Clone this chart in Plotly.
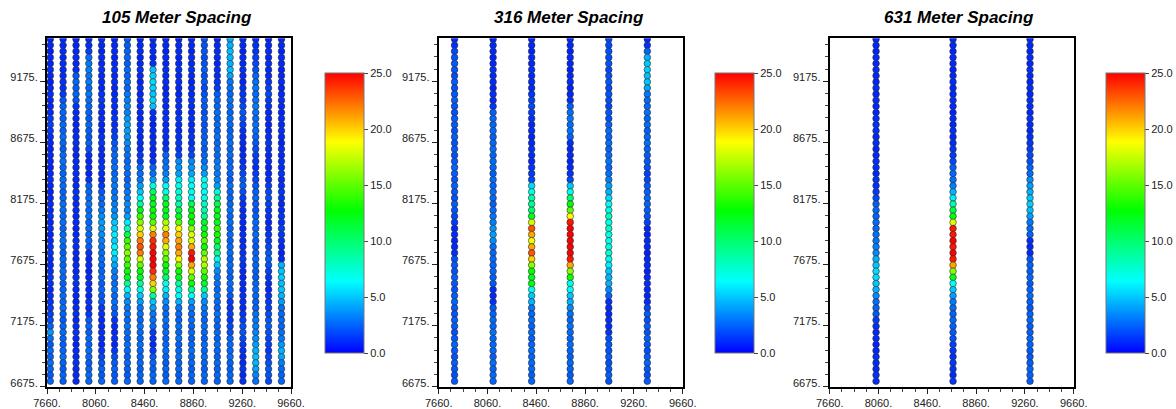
import plotly.graph_objects as go

# ---------------- data ----------------
# station positions along each survey line (top to bottom), 50 m spacing
station_y = list(range(9520, 6719, -50))  # 57 stations

# 105 m spacing: line x positions
lines_105_x = [7687, 7792, 7898, 8003, 8108, 8214, 8319, 8424, 8529, 8634,
               8740, 8845, 8950, 9056, 9161, 9266, 9371, 9476, 9582]

l105_c00 = [0.9,1.0,0.8,1.0,0.9,1.1,1.0,0.8,1.0,1.2,1.0,0.9,1.1,1.5,1.6,1.4,1.2,1.0,0.9,1.1,1.0,0.8,1.0,1.2,1.0,0.9,1.0,1.1,1.0,
            1.2,1.0,1.1,0.9,1.0,1.2,1.3,1.1,1.0,1.2,1.4,1.2,1.0,1.1,1.3,1.5,1.6,2.0,2.5,3.8,2.8,2.2,2.6,2.4,2.8,2.5,2.2,2.6]
l105_c01 = [1.1,1.0,1.1,0.9,1.2,1.0,1.1,1.3,1.2,1.5,2.2,2.5,2.6,2.4,2.7,2.5,2.8,2.6,2.4,2.7,2.9,2.6,2.5,2.8,2.7,2.5,2.6,2.8,2.7,
            2.6,2.8,2.5,2.7,2.9,2.6,2.4,2.7,2.5,2.8,2.6,2.4,2.5,2.7,2.6,2.8,2.5,2.3,2.6,2.7,2.5,2.4,2.6,2.8,2.5,2.3,2.6,2.4]
l105_c02 = [1.0,0.9,1.0,1.1,1.0,1.2,2.3,2.6,2.4,2.5,2.2,1.3,1.1,1.0,0.9,1.0,1.1,1.2,1.0,0.9,1.1,1.0,1.2,1.1,1.0,1.3,1.2,1.0,1.1,
            1.0,1.1,0.9,1.0,1.2,1.1,1.0,0.9,1.1,1.0,1.2,1.3,1.1,1.0,0.9,1.1,1.2,1.0,1.1,1.3,1.0,0.9,1.1,1.0,1.2,1.0,1.1,1.0]
l105_c03 = [1.1,1.2,1.5,2.8,3.0,3.2,2.9,3.1,2.7,3.0,2.8,2.6,2.5,2.3,2.6,2.4,2.2,2.5,2.0,1.2,1.0,1.1,0.9,1.3,2.4,2.6,2.8,3.0,2.7,
            2.9,2.6,2.8,2.5,2.7,2.4,1.2,1.0,1.1,0.9,1.0,1.2,1.1,1.0,1.3,1.1,1.4,2.3,2.6,2.4,2.7,2.5,2.8,2.6,2.4,2.5,2.7,2.6]
l105_c04 = [1.1,1.0,0.9,1.1,1.0,1.2,1.1,1.0,0.9,1.3,1.5,1.2,1.0,1.1,1.0,0.9,1.2,1.4,1.1,1.0,1.2,1.3,1.1,1.0,1.4,2.2,2.5,2.7,3.0,
            3.6,4.0,3.8,3.5,3.2,2.9,2.7,2.8,2.6,2.5,2.7,2.4,2.6,2.3,2.2,1.5,1.2,1.0,1.1,1.3,1.2,1.0,1.4,1.8,2.2,2.5,2.3,2.6]
l105_c05 = [0.9,1.0,1.1,0.9,1.0,1.2,1.0,1.1,0.9,1.0,1.2,1.1,1.0,1.3,1.2,1.4,1.6,2.2,2.5,2.7,2.6,2.8,2.5,2.9,3.1,2.8,3.0,3.2,3.4,
            3.8,5.0,5.3,6.0,5.2,6.2,6.0,5.0,4.2,3.2,2.9,2.7,3.0,2.6,2.8,2.5,2.2,1.3,1.1,1.0,1.2,1.0,1.4,2.0,2.3,2.5,2.2,2.4]
l105_c06 = [2.4,2.3,2.5,2.6,2.4,2.7,2.5,2.8,2.6,3.0,3.2,3.4,3.3,3.9,4.2,4.0,3.8,3.5,3.0,2.8,2.6,2.9,2.7,2.5,2.8,3.0,3.2,3.5,3.3,
            4.0,6.0,8.0,11.0,14.0,15.0,16.0,15.0,14.0,13.0,12.0,9.0,6.5,4.5,3.5,3.0,2.8,2.6,2.9,2.7,2.5,2.8,2.6,2.4,2.7,2.5,2.3,2.6]
l105_c07 = [0.9,1.0,1.1,0.9,1.0,1.2,1.0,0.9,1.1,1.0,1.2,1.1,1.0,0.9,1.3,1.1,1.0,1.2,1.1,1.4,1.6,2.6,2.8,3.0,4.0,5.0,6.5,9.0,12.0,
            14.0,16.0,18.0,20.0,22.0,23.0,22.0,18.0,15.0,13.0,12.0,9.0,7.0,5.0,4.0,3.0,2.8,2.6,2.9,2.7,2.5,2.8,2.6,2.5,2.7,2.4,2.6,2.5]
l105_c08 = [1.1,1.0,1.1,0.9,1.2,4.8,5.2,5.5,5.3,5.0,5.4,4.9,1.2,1.0,0.9,1.1,1.0,1.2,0.9,1.0,1.3,2.5,2.8,4.0,7.0,10.0,12.0,12.0,13.0,
            13.0,15.0,18.0,22.0,24.0,24.5,25.0,25.0,25.0,24.0,22.0,20.0,16.0,9.0,5.0,4.0,3.0,2.8,2.6,1.5,1.2,1.0,1.4,2.2,2.6,2.4,2.7,2.5]
l105_c09 = [1.1,1.0,0.9,1.1,1.0,1.2,1.0,1.1,0.9,1.0,1.2,1.0,1.1,1.3,1.0,1.1,1.2,1.0,1.4,2.5,2.7,2.9,3.2,4.0,6.5,7.0,10.0,12.0,12.0,
            12.0,17.0,18.0,22.0,21.0,18.0,16.0,15.0,13.0,12.0,10.0,7.0,6.0,4.5,3.5,2.8,2.6,2.9,2.5,2.7,2.4,2.6,2.8,2.5,2.3,2.6,2.4,2.7]
l105_c10 = [0.9,1.0,1.1,0.9,1.0,1.2,1.0,1.1,1.0,0.9,1.2,1.1,1.0,1.3,1.1,1.0,1.2,1.4,1.3,1.6,3.5,3.8,4.0,6.0,7.0,7.5,8.0,8.5,11.0,
            12.0,15.0,19.0,20.0,21.0,22.0,21.0,19.0,16.0,13.0,12.0,9.0,7.0,6.5,4.5,3.0,2.7,2.5,2.8,2.6,2.9,2.4,2.6,2.8,2.5,2.7,2.3,2.6]
l105_c11 = [1.1,1.0,0.9,1.1,1.0,1.2,1.0,0.9,1.1,1.0,1.3,1.1,1.0,1.2,1.0,1.1,1.3,1.2,1.5,1.8,3.5,3.8,4.2,6.0,6.5,7.0,6.5,11.0,12.0,
            13.0,13.0,16.0,18.0,18.0,21.0,24.5,25.0,21.0,18.0,15.0,13.0,9.0,6.5,4.0,3.0,2.6,2.8,2.5,2.7,2.4,2.6,2.9,2.5,2.7,2.4,2.6,2.5]
l105_c12 = [2.1,2.0,2.2,1.9,2.1,2.3,2.0,2.2,1.8,2.1,2.4,2.2,2.0,2.3,2.1,2.2,2.4,2.5,2.3,2.6,2.8,3.5,4.0,6.5,6.8,6.5,7.0,8.0,8.5,
            9.0,12.0,12.0,13.0,15.0,13.0,15.0,17.0,17.0,15.0,13.0,12.0,9.0,5.0,3.5,3.0,2.7,2.5,2.8,2.6,2.4,2.7,2.5,2.8,2.6,2.4,2.7,2.5]
l105_c13 = [0.9,1.0,1.1,1.0,0.9,1.2,1.1,1.3,1.5,2.4,2.6,2.5,2.8,2.6,2.7,2.5,2.9,2.6,2.8,2.7,3.0,3.2,3.0,3.4,4.0,7.5,9.0,11.0,12.0,
            12.0,12.0,14.0,13.0,12.0,10.0,9.0,7.0,5.0,3.5,3.0,2.8,2.6,2.9,2.7,2.5,2.8,2.6,2.4,2.7,2.5,2.8,2.6,2.4,2.7,2.5,2.6,2.4]
l105_c14 = [4.3,4.5,4.8,4.6,4.4,4.7,4.2,3.0,2.8,2.6,2.9,2.7,2.5,2.8,2.6,2.4,2.7,2.9,2.6,2.8,2.5,2.7,2.6,2.4,2.8,2.6,2.5,2.7,2.9,
            2.6,2.8,2.5,2.7,2.4,2.6,2.8,2.5,2.7,2.6,2.4,2.8,2.5,2.2,1.5,1.3,1.6,1.4,1.8,2.0,2.5,2.7,2.6,2.8,2.5,2.4,2.6,2.7]
l105_c15 = [1.1,1.0,0.9,1.1,1.0,1.2,1.0,0.9,1.1,1.3,1.5,1.8,2.2,2.0,1.6,1.2,1.0,1.1,0.9,1.0,1.2,1.4,1.8,2.2,2.4,2.0,1.5,1.2,1.0,
            1.1,1.0,0.9,1.2,1.0,1.1,1.3,1.5,1.2,1.0,0.9,1.1,1.0,1.2,1.1,1.0,1.3,1.6,2.0,2.2,1.8,1.4,1.2,1.0,1.1,1.3,1.0,1.2]
l105_c16 = [1.1,1.2,1.4,1.6,1.8,2.0,2.6,2.8,3.0,2.7,2.9,3.1,2.8,2.6,2.9,2.7,2.5,2.2,2.0,1.6,1.4,1.2,1.5,1.8,2.2,2.4,2.6,2.3,2.1,
            2.4,2.6,2.5,2.7,2.4,2.2,2.5,2.7,2.6,2.4,2.3,2.5,2.7,2.6,2.4,2.5,2.8,3.0,3.2,3.4,3.6,4.0,4.5,4.8,4.6,4.2,3.4,2.8]
l105_c17 = [0.9,1.0,1.1,0.9,1.2,1.0,1.1,1.3,1.6,1.8,1.5,1.2,1.0,1.1,0.9,1.0,1.2,1.4,1.2,1.0,1.1,0.9,1.0,1.2,1.5,1.8,2.0,1.6,1.3,
            1.2,1.0,1.1,1.3,1.5,1.8,2.2,2.4,2.0,1.6,1.3,1.1,1.0,1.2,1.4,1.6,1.9,2.2,2.4,2.1,1.8,1.6,1.4,1.8,2.0,2.3,2.1,1.8]
l105_c18 = [1.1,1.0,0.9,1.1,1.0,0.8,1.0,1.1,0.9,1.0,1.2,1.0,0.9,1.1,1.0,1.2,1.0,0.9,1.1,1.0,1.2,1.1,1.3,1.0,1.2,1.4,1.2,1.0,1.1,
            1.3,1.2,1.5,1.3,1.2,1.0,0.9,1.0,4.5,5.0,5.2,4.8,5.0,4.6,4.0,2.8,2.6,2.7,2.5,2.8,3.0,3.8,4.5,4.2,3.2,2.7,2.5,2.6]

# 316 m spacing
lines_316_x = [7790, 8106, 8422, 8738, 9054, 9370]
l316_c0 = [1.1,1.2,1.8,2.0,2.2,2.1,1.9,2.3,2.0,2.2,2.4,2.1,2.0,2.3,2.2,2.0,2.4,2.1,2.3,2.0,2.2,2.5,2.3,2.1,2.4,2.2,2.0,2.3,2.1,
           1.8,1.5,1.0,1.1,0.9,1.0,1.2,2.0,2.3,2.1,2.4,2.2,2.0,2.3,2.5,2.2,2.1,2.4,2.3,2.0,2.2,2.5,2.3,2.1,2.4,2.2,2.0,2.3]
l316_c1 = [0.9,1.0,1.1,0.9,1.0,1.2,1.0,1.1,0.9,1.2,1.0,1.3,2.4,2.6,2.5,2.7,2.4,2.6,2.8,2.5,2.7,2.6,2.4,2.7,2.5,2.8,2.6,2.4,2.7,
           2.9,3.2,3.8,4.0,3.6,2.8,2.6,2.7,2.5,2.6,2.4,2.2,1.1,1.0,1.2,2.2,2.5,2.7,2.6,2.8,2.5,2.7,2.6,2.4,2.8,2.5,2.7,2.6]
l316_c2 = [1.1,1.0,0.9,1.1,1.0,1.2,1.0,1.1,1.0,1.4,1.6,1.8,1.5,1.2,1.0,1.1,0.9,1.0,1.2,1.1,1.0,1.3,1.5,1.8,5.5,7.0,8.5,9.0,10.0,
           12.0,18.0,23.0,21.0,18.5,21.0,23.0,20.0,16.0,13.0,12.0,12.5,7.0,5.0,4.5,3.0,2.6,2.8,2.5,2.7,2.4,2.6,2.8,2.5,2.7,2.6,2.4,2.6]
l316_c3 = [1.1,1.0,0.9,1.1,1.0,0.8,1.0,1.1,0.9,1.0,1.2,2.4,2.8,3.0,2.7,2.9,2.5,1.2,1.0,1.1,0.9,1.0,1.3,1.8,5.0,7.0,10.0,12.5,15.0,
           19.0,24.5,25.0,25.0,25.0,25.0,25.0,24.5,21.0,16.0,13.0,7.0,6.5,5.0,4.5,3.5,2.8,2.6,2.9,2.7,2.5,2.8,2.6,2.4,2.7,2.5,2.3,2.6]
l316_c4 = [1.9,1.8,2.0,1.9,2.1,1.8,2.0,2.2,1.9,2.1,2.0,1.8,2.2,2.0,2.5,2.7,2.6,2.8,2.5,2.7,2.9,2.6,2.8,3.2,4.0,4.5,5.5,6.5,7.0,
           8.0,7.0,8.0,7.0,7.0,7.0,7.5,7.0,6.0,5.0,4.5,4.5,3.5,2.5,1.2,1.1,1.0,1.2,1.1,1.3,2.0,2.2,2.1,2.3,2.0,2.2,2.4,2.1]
l316_c5 = [1.0,1.2,2.5,4.5,5.0,5.2,4.8,5.0,4.2,3.0,2.7,2.6,2.8,2.5,2.7,2.4,2.6,2.8,2.5,2.3,2.2,2.0,1.6,1.8,2.2,2.4,2.6,2.5,2.3,
           2.0,1.6,1.0,0.9,1.1,1.0,0.8,1.0,1.1,0.9,1.0,1.2,1.0,0.9,1.1,1.8,2.2,2.0,2.3,2.1,2.4,2.2,2.0,2.3,2.5,2.2,2.0,2.3]

# 631 m spacing
lines_631_x = [8040, 8671, 9302]
l631_c0 = [1.1,1.0,0.9,1.1,1.0,1.2,1.0,0.9,1.1,1.0,1.2,1.0,0.9,1.1,1.3,1.2,1.0,1.1,0.9,1.0,1.2,1.1,1.0,1.3,1.2,1.5,1.8,2.4,2.6,
           2.5,2.7,2.6,2.8,2.9,3.1,3.5,4.5,5.0,5.5,5.5,5.0,4.5,3.5,2.7,2.5,2.2,1.5,1.2,1.0,1.1,0.9,1.0,1.2,1.1,1.0,1.3,1.1]
l631_c1 = [1.1,1.0,0.9,1.1,1.0,0.8,1.0,1.1,0.9,1.0,1.2,1.0,0.9,1.1,1.0,1.2,1.0,1.1,1.3,1.5,1.8,2.4,2.6,2.8,3.2,4.5,6.0,8.5,11.0,
           12.5,18.0,24.5,24.5,25.0,24.5,25.0,24.5,21.0,16.0,12.0,6.5,5.0,4.0,3.0,2.7,2.5,2.6,2.4,2.2,2.0,1.6,1.4,1.2,1.5,1.3,1.1,1.4]
l631_c2 = [1.1,1.0,0.9,1.1,1.0,1.2,1.0,0.9,1.1,1.0,1.2,1.1,1.0,1.3,1.1,1.0,1.2,1.4,1.6,1.8,2.0,2.5,2.7,3.5,4.0,4.5,5.0,5.2,4.8,
           4.0,3.0,2.7,2.5,1.2,1.0,1.1,2.2,2.5,2.4,2.6,2.3,2.5,2.7,2.4,2.2,2.5,2.6,2.3,2.4,2.6,2.5,2.3,2.2,2.4,2.6,2.5,2.3]

titles = ["105 Meter Spacing", "316 Meter Spacing", "631 Meter Spacing"]
x_tickvals = [7660, 8060, 8460, 8860, 9260, 9660]
x_ticktext = ["7660.", "8060.", "8460.", "8860.", "9260.", "9660."]
y_tickvals = [6675, 7175, 7675, 8175, 8675, 9175]
y_ticktext = ["6675.", "7175.", "7675.", "8175.", "8675.", "9175."]
cb_tickvals = [0, 5, 10, 15, 20, 25]
cb_ticktext = ["0.0", "5.0", "10.0", "15.0", "20.0", "25.0"]

panels = [
    (lines_105_x, [l105_c00, l105_c01, l105_c02, l105_c03, l105_c04, l105_c05, l105_c06,
                   l105_c07, l105_c08, l105_c09, l105_c10, l105_c11, l105_c12, l105_c13,
                   l105_c14, l105_c15, l105_c16, l105_c17, l105_c18]),
    (lines_316_x, [l316_c0, l316_c1, l316_c2, l316_c3, l316_c4, l316_c5]),
    (lines_631_x, [l631_c0, l631_c1, l631_c2]),
]

# ---------------- layout constants ----------------
W, H = 1176, 409
plot_left = [47, 438.7, 829.7]
plot_w = 244
plot_top, plot_bottom = 38.3, 386.7
cb_left = [325, 715.3, 1106]
title_cx = [177, 568.7, 959]

jet = [[0.0, "#0000ff"], [0.256, "#00ffff"], [0.51, "#00ff00"],
       [0.755, "#ffff00"], [1.0, "#ff0000"]]

FONT = "Liberation Sans, Arial, Helvetica, sans-serif"

fig = go.Figure()
layout = dict(
    template="none",
    width=W, height=H, margin=dict(l=0, r=0, t=0, b=0, pad=0, autoexpand=False),
    paper_bgcolor="white", plot_bgcolor="white", showlegend=False,
    font=dict(family=FONT, size=11, color="#222"),
    annotations=[],
)

for i, (xs, cols) in enumerate(panels):
    n = "" if i == 0 else str(i + 1)
    px, py, pv = [], [], []
    for xv, col in zip(xs, cols):
        px += [xv] * len(col)
        py += station_y[:len(col)]
        pv += col
    fig.add_trace(go.Scatter(
        x=px, y=py, mode="markers",
        xaxis="x" + n, yaxis="y" + n,
        marker=dict(size=6.6, color=pv, coloraxis="coloraxis" + n,
                    line=dict(width=0.6, color="#2a2a2a")),
        hoverinfo="skip",
    ))
    layout["xaxis" + n] = dict(
        domain=[plot_left[i] / W, (plot_left[i] + plot_w) / W],
        anchor="y" + n, range=[7660, 9660], automargin=False,
        tickmode="array", tickvals=x_tickvals, ticktext=x_ticktext,
        ticks="outside", ticklen=5, tickwidth=1, tickcolor="#222",
        minor=dict(tickmode="linear", tick0=7660, dtick=100, ticks="outside",
                   ticklen=3, tickcolor="#444", showgrid=False),
        showline=True, linecolor="black", linewidth=2, mirror=True,
        showgrid=False, zeroline=False,
        tickfont=dict(size=11, color="#222", family=FONT),
    )
    layout["yaxis" + n] = dict(
        domain=[1 - plot_bottom / H, 1 - plot_top / H],
        anchor="x" + n, range=[6675, 9527], automargin=False,
        tickmode="array", tickvals=y_tickvals, ticktext=y_ticktext,
        ticks="outside", ticklen=5, tickwidth=1, tickcolor="#222",
        ticklabelshift=-4,
        minor=dict(tickmode="linear", tick0=6675, dtick=100, ticks="outside",
                   ticklen=3, tickcolor="#444", showgrid=False),
        showline=True, linecolor="black", linewidth=2, mirror=True,
        showgrid=False, zeroline=False,
        tickfont=dict(size=11, color="#222", family=FONT),
    )
    layout["coloraxis" + n] = dict(
        cmin=0, cmax=25, colorscale=jet,
        colorbar=dict(
            x=cb_left[i] / W, xanchor="left", xpad=0,
            y=1 - 213.3 / H, yanchor="middle", ypad=0,
            thickness=39, thicknessmode="pixels",
            len=280, lenmode="pixels",
            outlinewidth=1, outlinecolor="#777",
            tickmode="array", tickvals=cb_tickvals, ticktext=cb_ticktext,
            ticks="outside", ticklen=4, tickcolor="#444",
            tickfont=dict(size=11, color="#222", family=FONT),
        ),
    )
    layout["annotations"].append(dict(
        text="<b><i>" + titles[i] + "</i></b>", xref="paper", yref="paper",
        x=title_cx[i] / W, y=1 - 18 / H, xanchor="center", yanchor="middle",
        showarrow=False, font=dict(size=17, color="black", family=FONT),
    ))

fig.update_layout(**layout)
fig.write_html("out.html",
               config={"displayModeBar": False, "staticPlot": True},
               post_script="document.body.style.margin='0';"
                           "document.body.style.overflow='hidden';")
